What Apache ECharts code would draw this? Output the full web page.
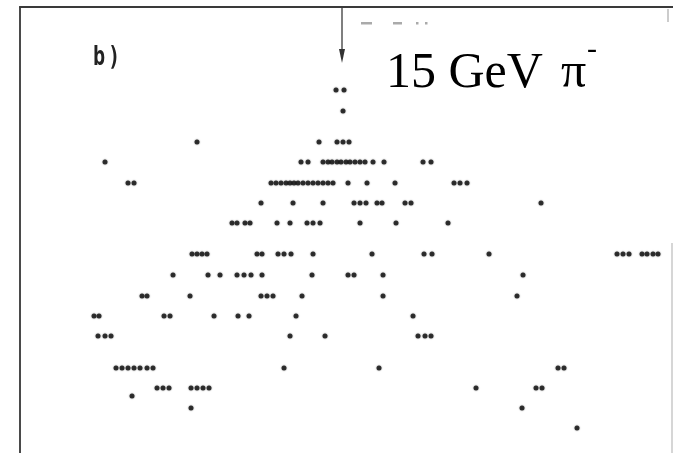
<!DOCTYPE html>
<html>
<head>
<meta charset="utf-8">
<script src="https://cdn.jsdelivr.net/npm/echarts@6/dist/echarts.min.js"></script>
<style>
  html, body { margin: 0; padding: 0; background: #fff; }
  #main { width: 673px; height: 453px; }
</style>
</head>
<body>
<div id="main"></div>
<script>
// 每一层的深度（扫描坐标，向下增大）
const depths = [90, 111, 142, 162, 183, 203, 223, 254, 275, 296, 316, 336, 368, 388, 396, 408, 428]
// 每一层的击中位置（横向坐标）
const hits90 = [336, 344]
const hits111 = [343]
const hits142 = [197, 319, 337, 343, 349]
const hits162 = [105, 301, 308, 323, 328, 332, 337, 341, 346, 350, 355, 360, 365, 373, 384, 423, 431]
const hits183 = [128, 134, 271, 276, 281, 286, 290, 294, 298, 303, 308, 313, 318, 323, 328, 333, 348, 367, 395, 454, 460, 467]
const hits203 = [261, 293, 323, 354, 360, 366, 377, 382, 405, 411, 541]
const hits223 = [232, 237, 245, 250, 277, 290, 307, 313, 320, 360, 396, 448]
const hits254 = [192, 197, 202, 207, 257, 262, 278, 284, 291, 313, 372, 424, 432, 489, 617, 623, 629, 642, 647, 653, 658]
const hits275 = [173, 208, 220, 237, 244, 251, 262, 312, 348, 354, 383, 523]
const hits296 = [142, 147, 190, 261, 267, 273, 302, 383, 517]
const hits316 = [94, 99, 164, 170, 214, 238, 249, 296, 413]
const hits336 = [98, 105, 111, 290, 325, 418, 425, 431]
const hits368 = [116, 122, 128, 134, 140, 147, 153, 284, 379, 558, 564]
const hits388 = [157, 163, 169, 191, 197, 203, 209, 476, 536, 542]
const hits396 = [132]
const hits408 = [191, 522]
const hits428 = [577]
const layers = [hits90, hits111, hits142, hits162, hits183, hits203, hits223, hits254, hits275,
  hits296, hits316, hits336, hits368, hits388, hits396, hits408, hits428]

const points = []
layers.forEach((row, i) => row.forEach(x => points.push([x, depths[i]])))

const myChart = echarts.init(document.querySelector('#main'))
const option = {
  animation: false,
  backgroundColor: '#fff',
  grid: { left: 20, top: 7, right: 0, bottom: 0 },
  xAxis: {
    type: 'value',
    position: 'top',
    min: 20,
    max: 673,
    axisLine: { show: true, lineStyle: { color: '#3a3a3a', width: 2 } },
    axisTick: { show: false },
    axisLabel: { show: false },
    splitLine: { show: false },
  },
  yAxis: {
    type: 'value',
    inverse: true,
    min: 7,
    max: 453,
    axisLine: { show: true, lineStyle: { color: '#4a4a4a', width: 2 } },
    axisTick: { show: false },
    axisLabel: { show: false },
    splitLine: { show: false },
  },
  series: [
    {
      type: 'scatter',
      data: points,
      symbol: 'circle',
      symbolSize: 5,
      itemStyle: { color: '#111', shadowBlur: 1.5, shadowColor: 'rgba(0,0,0,0.6)' },
      silent: true,
    },
  ],
  graphic: [
    // 右侧淡色边框
    { type: 'line', shape: { x1: 672, y1: 243, x2: 672, y2: 453 }, style: { stroke: '#c8c8c8', lineWidth: 1.5 } },
    { type: 'line', shape: { x1: 668, y1: 9, x2: 668, y2: 22 }, style: { stroke: '#999', lineWidth: 1 } },
    // 入射箭头
    { type: 'line', shape: { x1: 342, y1: 8, x2: 342, y2: 54 }, style: { stroke: '#555', lineWidth: 1.5 } },
    { type: 'polygon', shape: { points: [[339, 49], [345, 49], [342, 63]] }, style: { fill: '#333' } },
    // 扫描残留的模糊标注
    { type: 'rect', shape: { x: 361, y: 22, width: 11, height: 2.5 }, style: { fill: '#aaa' } },
    { type: 'rect', shape: { x: 393, y: 22, width: 9, height: 2.5 }, style: { fill: '#aaa' } },
    { type: 'rect', shape: { x: 416, y: 22, width: 2.5, height: 2.5 }, style: { fill: '#aaa' } },
    { type: 'rect', shape: { x: 425, y: 22, width: 2.5, height: 2.5 }, style: { fill: '#aaa' } },
    // 图号
    {
      type: 'text', x: 93, y: 44, scaleX: 0.75,
      style: { text: 'b', font: 'bold 27px "DejaVu Sans Mono"', fill: '#222', verticalAlign: 'top' },
    },
    {
      type: 'text', x: 108, y: 44, scaleX: 0.75,
      style: { text: ')', font: 'bold 27px "DejaVu Sans Mono"', fill: '#222', verticalAlign: 'top' },
    },
    // 标题
    {
      type: 'text', x: 386, y: 49,
      style: { text: '15 GeV', font: '50px "Liberation Serif"', fill: '#000', verticalAlign: 'top' },
    },
    {
      type: 'text', x: 561, y: 49,
      style: { text: 'π', font: '50px "Liberation Serif"', fill: '#000', verticalAlign: 'top' },
    },
    {
      type: 'text', x: 587, y: 35,
      style: { text: '-', font: '30px "Liberation Serif"', fill: '#000', verticalAlign: 'top' },
    },
  ],
}
myChart.setOption(option)
</script>
</body>
</html>
